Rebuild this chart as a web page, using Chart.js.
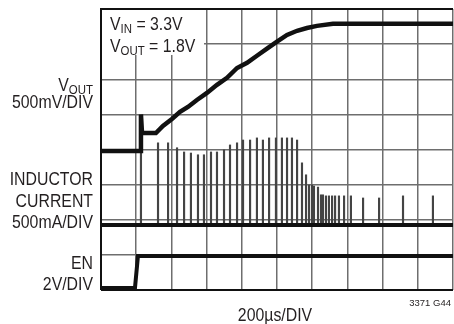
<!DOCTYPE html>
<html>
<head>
<meta charset="utf-8">
<script src="https://cdn.jsdelivr.net/npm/chart.js@4/dist/chart.umd.min.js"></script>
<style>
  html, body { margin: 0; padding: 0; background: #fff; }
  #wrap { width: 454px; height: 324px; position: relative; }
</style>
</head>
<body>
<div id="wrap"><canvas id="scope"></canvas></div>
<script>
// time axis in µs (200µs/DIV, 10 divisions), levels in divisions (8 divisions)
const timeTicks = [0, 200, 400, 600, 800, 1000, 1200, 1400, 1600, 1800, 2000];
const divTicks = [0, 1, 2, 3, 4, 5, 6, 7, 8];

// VOUT trace
const voutTime = [0, 222, 227, 233, 312, 352, 403, 449, 494, 545, 602, 659, 716, 773, 830, 886, 943, 1000, 1057, 1114, 1170, 1227, 1318, 1415, 2000];
const voutLevel = [3.96, 3.96, 5.0, 4.47, 4.47, 4.67, 4.87, 5.07, 5.21, 5.41, 5.61, 5.84, 6.04, 6.32, 6.47, 6.67, 6.87, 7.07, 7.26, 7.38, 7.46, 7.52, 7.58, 7.58, 7.58];

// inductor current: baseline and switching pulses
const inductorBase = 1.85;
const pulseTime = [227, 324, 381, 432, 472, 511, 551, 585, 625, 659, 699, 733, 773, 807, 847, 886, 920, 955, 994, 1028, 1057, 1085, 1114, 1142, 1165, 1182, 1199, 1210, 1233, 1250, 1261, 1278, 1295, 1313, 1330, 1352, 1381, 1420, 1489, 1580, 1716, 1886];
const pulsePeak = [4.5, 4.19, 4.19, 4.05, 3.93, 3.90, 3.85, 3.85, 3.93, 3.93, 3.99, 4.13, 4.19, 4.27, 4.27, 4.33, 4.27, 4.33, 4.33, 4.33, 4.33, 4.33, 4.27, 3.62, 3.28, 2.99, 2.99, 2.96, 2.93, 2.71, 2.71, 2.68, 2.68, 2.68, 2.68, 2.68, 2.68, 2.68, 2.62, 2.62, 2.68, 2.68];

// EN trace
const enTime = [0, 193, 210, 2000];
const enLevel = [0.06, 0.06, 0.97, 0.97];

const LABEL_FONT = '18px "Liberation Sans", Arial, sans-serif';
const SUB_FONT = '13px "Liberation Sans", Arial, sans-serif';
const SQUEEZE = 0.88;

function toPoints(xs, ys) {
    return xs.map((x, i) => ({ x: x, y: ys[i] }));
}

// draws text with optional subscript, squeezed to a condensed look
function drawLabel(ctx, x, y, main, sub, rest, align) {
    ctx.save();
    ctx.fillStyle = '#231f20';
    ctx.textBaseline = 'alphabetic';
    ctx.textAlign = 'left';
    ctx.font = LABEL_FONT;
    const wMain = ctx.measureText(main).width;
    const wRest = rest ? ctx.measureText(rest).width : 0;
    ctx.font = SUB_FONT;
    const wSub = sub ? ctx.measureText(sub).width : 0;
    const total = (wMain + wSub + wRest) * SQUEEZE;
    const startX = align === 'right' ? x - total : x;
    ctx.translate(startX, y);
    ctx.scale(SQUEEZE, 1);
    ctx.font = LABEL_FONT;
    ctx.fillText(main, 0, 0);
    if (sub) {
        ctx.font = SUB_FONT;
        ctx.fillText(sub, wMain, 3);
    }
    if (rest) {
        ctx.font = LABEL_FONT;
        ctx.fillText(rest, wMain + wSub, 0);
    }
    ctx.restore();
}

const scopeDecor = {
    id: 'scopeDecor',
    beforeDatasetsDraw(chart) {
        const ctx = chart.ctx;
        const a = chart.chartArea;
        ctx.save();
        // clear area behind the conditions text
        ctx.fillStyle = '#fff';
        ctx.fillRect(a.left, a.top, 103, 46);
        ctx.restore();
    },
    afterDatasetsDraw(chart) {
        const ctx = chart.ctx;
        const a = chart.chartArea;
        ctx.save();
        ctx.strokeStyle = '#111';
        ctx.lineWidth = 2;
        ctx.beginPath();
        ctx.moveTo(a.left, a.bottom);
        ctx.lineTo(a.left, a.top);
        ctx.lineTo(a.right, a.top);
        ctx.moveTo(a.left, a.bottom);
        ctx.lineTo(a.right, a.bottom);
        ctx.stroke();
        ctx.restore();
    },
    afterDraw(chart) {
        const ctx = chart.ctx;
        drawLabel(ctx, 110, 30, 'V', 'IN', ' = 3.3V', 'left');
        drawLabel(ctx, 110, 52, 'V', 'OUT', ' = 1.8V', 'left');

        drawLabel(ctx, 93, 91, 'V', 'OUT', '', 'right');
        drawLabel(ctx, 93, 108, '500mV/DIV', '', '', 'right');
        drawLabel(ctx, 93, 185, 'INDUCTOR', '', '', 'right');
        drawLabel(ctx, 93, 207, 'CURRENT', '', '', 'right');
        drawLabel(ctx, 93, 228, '500mA/DIV', '', '', 'right');
        drawLabel(ctx, 93, 269, 'EN', '', '', 'right');
        drawLabel(ctx, 93, 290, '2V/DIV', '', '', 'right');

        ctx.save();
        ctx.font = LABEL_FONT;
        const w = ctx.measureText('200µs/DIV').width * SQUEEZE;
        ctx.restore();
        drawLabel(ctx, 275 - w / 2, 321, '200µs/DIV', '', '', 'left');

        ctx.save();
        ctx.fillStyle = '#231f20';
        ctx.font = '9.5px "Liberation Sans", Arial, sans-serif';
        ctx.textAlign = 'right';
        ctx.fillText('3371 G44', 451, 306);
        ctx.restore();
    }
};

const ctx = document.getElementById('scope').getContext('2d');

new Chart(ctx, {
    type: 'line',
    data: {
        datasets: [
            {
                label: 'VOUT',
                data: toPoints(voutTime, voutLevel),
                borderColor: '#111',
                borderWidth: 4.5,
                pointRadius: 0,
                tension: 0,
                order: 0
            },
            {
                label: 'Inductor base',
                data: toPoints([timeTicks[0], timeTicks[timeTicks.length - 1]], [inductorBase, inductorBase]),
                borderColor: '#111',
                borderWidth: 4,
                pointRadius: 0,
                order: 0
            },
            {
                type: 'bar',
                label: 'Inductor pulses',
                data: pulseTime.map((t, i) => ({ x: t, y: [inductorBase, pulsePeak[i]] })),
                backgroundColor: '#444',
                barThickness: 1.5,
                order: 1
            },
            {
                label: 'EN',
                data: toPoints(enTime, enLevel),
                borderColor: '#111',
                borderWidth: 4,
                pointRadius: 0,
                tension: 0,
                order: 0
            }
        ]
    },
    options: {
        responsive: true,
        maintainAspectRatio: false,
        animation: false,
        layout: {
            padding: { left: 101, top: 9, right: 1, bottom: 34 }
        },
        plugins: {
            legend: { display: false },
            tooltip: { enabled: false }
        },
        scales: {
            x: {
                type: 'linear',
                offset: false,
                min: timeTicks[0],
                max: timeTicks[timeTicks.length - 1],
                afterBuildTicks: (scale) => { scale.ticks = timeTicks.map(v => ({ value: v })); },
                ticks: { display: false },
                grid: { color: '#6e6e6e', lineWidth: 1.5, drawTicks: false, offset: false },
                border: { display: false }
            },
            y: {
                type: 'linear',
                min: divTicks[0],
                max: divTicks[divTicks.length - 1],
                afterBuildTicks: (scale) => { scale.ticks = divTicks.map(v => ({ value: v })); },
                ticks: { display: false },
                grid: { color: '#6e6e6e', lineWidth: 1.5, drawTicks: false },
                border: { display: false }
            }
        }
    },
    plugins: [scopeDecor]
});
</script>
</body>
</html>
